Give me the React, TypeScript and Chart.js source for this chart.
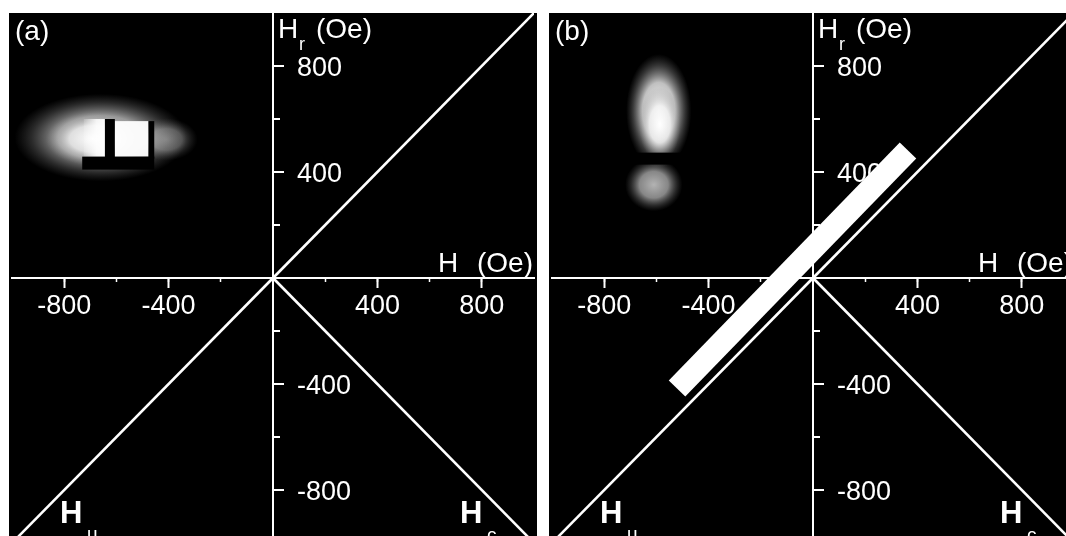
import React, { useEffect, useRef } from 'react';
import { Chart, registerables } from 'chart.js';

Chart.register(...registerables);

// ---------- data (Oe) ----------
const FIELD_MIN = -1000;
const FIELD_MAX = 1000;
const MINOR_STEP = 200;
const xTickLabels = [-800, -400, 400, 800];
const yTickLabels = [-800, -400, 400, 800];

// H_r = H reference line
const diagonalH = [-1000, 0, 1000];
const diagonalHr = [-1000, 0, 1000];
// H_r = -H for H > 0
const antiH = [0, 1000];
const antiHr = [0, -1000];
// white stripe in panel (b)
const stripeH = [-521, 364];
const stripeHr = [-417, 481];

type Cloud = { h: number; hr: number; rh: number; rr: number; level: number };
type Box = { h1: number; h2: number; r1: number; r2: number; fade?: boolean };

const cloudsA: Cloud[] = [
  { h: -660, hr: 530, rh: 330, rr: 165, level: 0.8 },
  { h: -690, hr: 525, rh: 180, rr: 100, level: 0.95 },
  { h: -409, hr: 523, rh: 120, rr: 80, level: 0.4 },
];
const brightBoxesA: Box[] = [
  { h1: -725, h2: -644, r1: 458, r2: 600, fade: true },
  { h1: -606, h2: -477, r1: 458, r2: 592 },
];
const darkBoxesA: Box[] = [
  { h1: -644, h2: -606, r1: 445, r2: 600 },
  { h1: -477, h2: -455, r1: 450, r2: 592 },
  { h1: -731, h2: -455, r1: 409, r2: 458 },
];

const cloudsB: Cloud[] = [
  { h: -591, hr: 630, rh: 125, rr: 215, level: 1 },
  { h: -587, hr: 580, rh: 80, rr: 140, level: 1 },
  { h: -610, hr: 352, rh: 110, rr: 100, level: 0.7 },
];
const brightBoxesB: Box[] = [];
const darkBoxesB: Box[] = [{ h1: -700, h2: -485, r1: 428, r2: 473 }];

// ---------- styling ----------
const FONT = '"Liberation Sans", Arial, Helvetica, sans-serif';
const WHITE = '#ffffff';
const CANVAS_W = 528;
const CANVAS_H = 530;

type PanelSpec = {
  key: string;
  label: string;
  clouds: Cloud[];
  bright: Box[];
  dark: Box[];
  stripe: boolean;
};

const panels: PanelSpec[] = [
  { key: 'a', label: '(a)', clouds: cloudsA, bright: brightBoxesA, dark: darkBoxesA, stripe: false },
  { key: 'b', label: '(b)', clouds: cloudsB, bright: brightBoxesB, dark: darkBoxesB, stripe: true },
];

function isHidden(v: number) {
  return v === 0 || Math.abs(v) >= FIELD_MAX;
}

function makeDecorPlugin(spec: PanelSpec) {
  return {
    id: 'decor_' + spec.key,
    beforeDraw(chart: any) {
      const { ctx } = chart;
      ctx.save();
      ctx.fillStyle = '#000';
      ctx.fillRect(0, 0, chart.width, chart.height);
      ctx.restore();
    },
    beforeDatasetsDraw(chart: any) {
      const { ctx, chartArea: area } = chart;
      const sx = chart.scales.x;
      const sy = chart.scales.y;
      const px = (v: number) => sx.getPixelForValue(v);
      const py = (v: number) => sy.getPixelForValue(v);
      const x0 = px(0);
      const y0 = py(0);

      // --- intensity image in upper-left quadrant ---
      ctx.save();
      ctx.beginPath();
      ctx.rect(area.left, area.top, x0 - area.left - 3, y0 - area.top - 3);
      ctx.clip();
      spec.clouds.forEach((c) => {
        const cx = px(c.h);
        const cy = py(c.hr);
        const rx = px(c.h + c.rh) - cx;
        const ry = cy - py(c.hr + c.rr);
        ctx.save();
        ctx.translate(cx, cy);
        ctx.scale(rx, ry);
        const g = ctx.createRadialGradient(0, 0, 0, 0, 0, 1);
        g.addColorStop(0, `rgba(255,255,255,${c.level})`);
        g.addColorStop(0.5, `rgba(240,240,240,${c.level * 0.8})`);
        g.addColorStop(0.8, `rgba(180,180,180,${c.level * 0.3})`);
        g.addColorStop(1, 'rgba(140,140,140,0)');
        ctx.fillStyle = g;
        ctx.beginPath();
        ctx.arc(0, 0, 1, 0, Math.PI * 2);
        ctx.fill();
        ctx.restore();
      });
      spec.bright.forEach((b) => {
        const l = px(b.h1);
        const r = px(b.h2);
        const t = py(b.r2);
        const bt = py(b.r1);
        if (b.fade) {
          const g = ctx.createLinearGradient(l, 0, r, 0);
          g.addColorStop(0, 'rgba(255,255,255,0.15)');
          g.addColorStop(0.6, 'rgba(255,255,255,0.85)');
          g.addColorStop(1, 'rgba(255,255,255,0.97)');
          ctx.fillStyle = g;
        } else {
          ctx.fillStyle = 'rgba(255,255,255,0.95)';
        }
        ctx.fillRect(l, t, r - l, bt - t);
      });
      ctx.fillStyle = '#000';
      spec.dark.forEach((b) => {
        const l = px(b.h1);
        const r = px(b.h2);
        const t = py(b.r2);
        const bt = py(b.r1);
        ctx.fillRect(l, t, r - l, bt - t);
      });
      ctx.restore();

      ctx.save();
      ctx.fillStyle = WHITE;
      ctx.strokeStyle = WHITE;

      // --- vertical axis ticks (to the right) ---
      ctx.lineWidth = 2;
      sy.ticks.forEach((t: any) => {
        const v = t.value;
        if (isHidden(v)) return;
        const len = yTickLabels.includes(v) ? 11 : 7;
        const y = Math.round(py(v));
        ctx.beginPath();
        ctx.moveTo(x0, y);
        ctx.lineTo(x0 + len, y);
        ctx.stroke();
      });
      ctx.font = `27px ${FONT}`;
      ctx.textAlign = 'left';
      ctx.textBaseline = 'alphabetic';
      yTickLabels.forEach((v) => {
        ctx.fillText(String(v), x0 + 24, py(v) + 10);
      });

      // --- axis titles ---
      ctx.font = `28px ${FONT}`;
      ctx.fillText('H', x0 + 5, y0 - 240);
      ctx.fillText('(Oe)', x0 + 43, y0 - 240);
      ctx.font = `18px ${FONT}`;
      ctx.fillText('r', x0 + 26, y0 - 228);

      ctx.font = `28px ${FONT}`;
      ctx.textAlign = 'left';
      ctx.fillText('H', x0 + 165, y0 - 6);
      ctx.textAlign = 'right';
      ctx.fillText('(Oe)', area.right - 1, y0 - 6);

      // --- panel label ---
      ctx.textAlign = 'left';
      ctx.fillText(spec.label, area.left + 3, y0 - 238);

      // --- quadrant labels ---
      ctx.font = `bold 31px ${FONT}`;
      ctx.fillText('H', x0 - 213, y0 + 245);
      ctx.fillText('H', x0 + 187, y0 + 245);
      ctx.font = `19px ${FONT}`;
      ctx.fillText('u', x0 - 186, y0 + 262);
      ctx.fillText('c', x0 + 214, y0 + 263);
      ctx.restore();
    },
  };
}

function buildConfig(spec: PanelSpec): any {
  const datasets: any[] = [];
  if (spec.stripe) {
    datasets.push({
      label: 'stripe',
      data: stripeH.map((h, i) => ({ x: h, y: stripeHr[i] })),
      showLine: true,
      borderColor: WHITE,
      borderWidth: 23,
      borderCapStyle: 'butt',
      pointRadius: 0,
    });
  }
  datasets.push({
    label: 'Hr = H',
    data: diagonalH.map((h, i) => ({ x: h, y: diagonalHr[i] })),
    showLine: true,
    borderColor: WHITE,
    borderWidth: 2.6,
    pointRadius: 0,
  });
  datasets.push({
    label: 'Hr = -H',
    data: antiH.map((h, i) => ({ x: h, y: antiHr[i] })),
    showLine: true,
    borderColor: WHITE,
    borderWidth: 2.6,
    pointRadius: 0,
  });

  const majorColor = (ctx: any) =>
    ctx.tick && xTickLabels.includes(ctx.tick.value) ? WHITE : 'rgba(0,0,0,0)';
  const minorColor = (ctx: any) =>
    ctx.tick && !isHidden(ctx.tick.value) ? WHITE : 'rgba(0,0,0,0)';

  return {
    type: 'scatter',
    data: { datasets },
    options: {
      responsive: false,
      animation: false,
      events: [],
      layout: { padding: 0 },
      plugins: { legend: { display: false }, tooltip: { enabled: false } },
      scales: {
        x: {
          type: 'linear',
          min: FIELD_MIN,
          max: FIELD_MAX,
          position: { y: 0 },
          ticks: {
            stepSize: MINOR_STEP,
            autoSkip: false,
            maxRotation: 0,
            color: WHITE,
            padding: 3,
            font: { family: FONT, size: 27 },
            callback: (v: any) => (xTickLabels.includes(Number(v)) ? String(v) : ''),
          },
          grid: {
            display: true,
            drawOnChartArea: false,
            drawTicks: true,
            tickLength: 9,
            tickWidth: 2,
            tickColor: majorColor,
          },
          border: { display: true, color: WHITE, width: 2 },
        },
        x2: {
          type: 'linear',
          axis: 'x',
          min: FIELD_MIN,
          max: FIELD_MAX,
          position: { y: 0 },
          ticks: { stepSize: MINOR_STEP, display: false, autoSkip: false },
          grid: {
            display: true,
            drawOnChartArea: false,
            drawTicks: true,
            tickLength: 4,
            tickWidth: 1.5,
            tickColor: minorColor,
          },
          border: { display: false },
        },
        y: {
          type: 'linear',
          min: FIELD_MIN,
          max: FIELD_MAX,
          position: { x: 0 },
          ticks: { stepSize: MINOR_STEP, display: false, autoSkip: false },
          grid: { display: false },
          border: { display: true, color: WHITE, width: 2 },
        },
      },
    },
    plugins: [makeDecorPlugin(spec)],
  };
}

function Panel({ spec, left }: { spec: PanelSpec; left: number }) {
  const ref = useRef<HTMLCanvasElement | null>(null);
  useEffect(() => {
    if (!ref.current) return;
    const chart = new Chart(ref.current, buildConfig(spec));
    return () => chart.destroy();
  }, [spec]);
  return (
    <canvas
      ref={ref}
      width={CANVAS_W}
      height={CANVAS_H}
      style={{ position: 'absolute', left, top: 13, width: CANVAS_W, height: CANVAS_H, background: '#000' }}
    />
  );
}

export default function App() {
  return (
    <div
      style={{
        position: 'fixed',
        left: 0,
        top: 0,
        width: 1066,
        height: 536,
        overflow: 'hidden',
        background: '#fff',
      }}
    >
      <Panel spec={panels[0]} left={9} />
      <Panel spec={panels[1]} left={549} />
    </div>
  );
}
